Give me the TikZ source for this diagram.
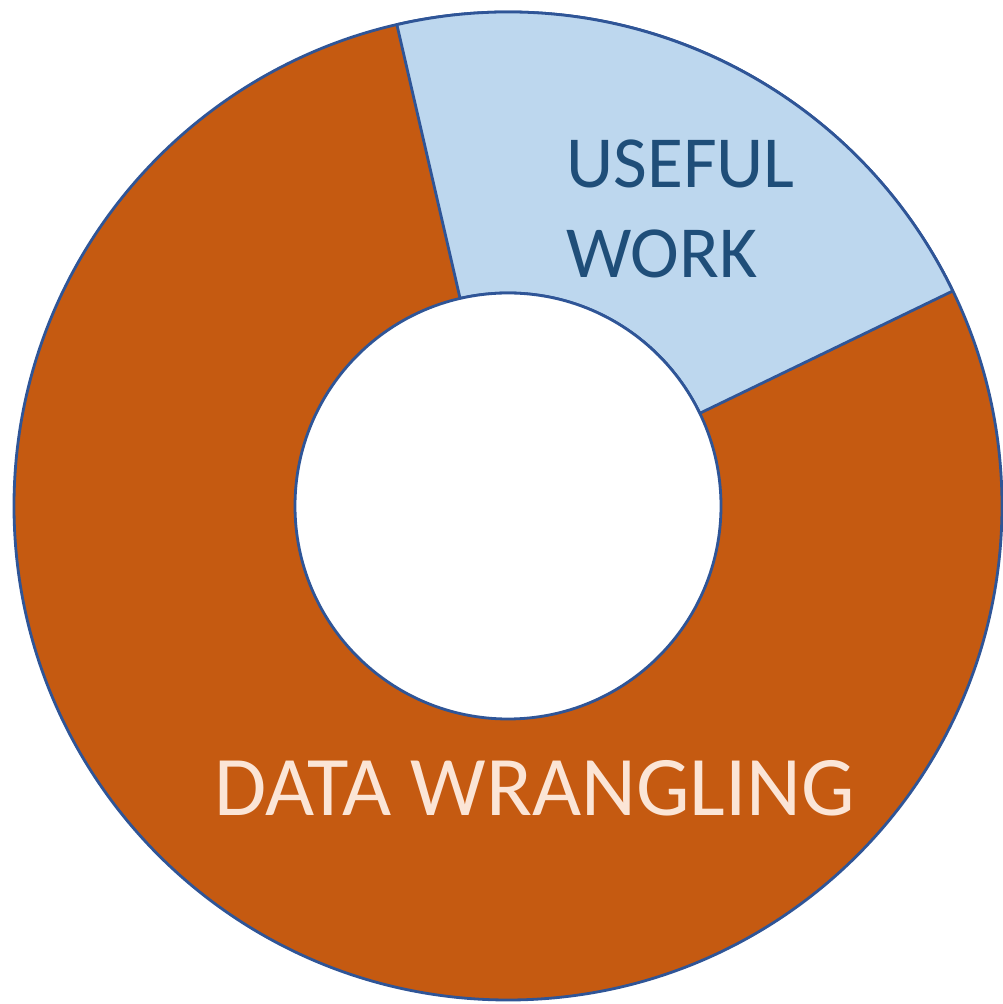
\documentclass[tikz,border=0pt]{standalone}
\usepackage{fontspec}
\setmainfont{Carlito}
\usetikzlibrary{calc, positioning}
\definecolor{wranglerust}{HTML}{C55A11}
\definecolor{usefulsky}{HTML}{BDD7EE}
\definecolor{edgeblue}{HTML}{2F5597}
\definecolor{usefulink}{HTML}{1F4E79}
\definecolor{wranglecream}{HTML}{FBE5D6}

\begin{document}
\begin{tikzpicture}[x=0.02cm, y=0.02cm]
        \useasboundingbox (0,0) rectangle (1002,1004);
        \coordinate (centre) at (508,498);

        % whole ring, then the useful slice on top
        \draw [fill=wranglerust, draw=edgeblue, line width=1.6pt] (centre) circle [radius=494];
        \draw [fill=usefulsky, draw=edgeblue, line width=1.6pt, line join=round]
            ($(centre)+(25.8:494)$) arc [start angle=25.8, end angle=103, radius=494]
            -- ($(centre)+(103:213)$) arc [start angle=103, end angle=25.8, radius=213] -- cycle;
        \draw [fill=white, draw=edgeblue, line width=1.6pt] (centre) circle [radius=213];

        \node (useful) [anchor=base west, inner sep=0pt, text=usefulink, font=\fontsize{41.8}{51}\selectfont] at (566,816) {USEFUL};
        \node (work) [anchor=base west, inner sep=0pt, text=usefulink, font=\fontsize{41.8}{51}\selectfont] at (566,726) {WORK};
        \node (wrangling) [anchor=base west, inner sep=0pt, text=wranglecream, font=\fontsize{48.3}{56}\selectfont] at (214,188) {DATA WRANGLING};
    \end{tikzpicture}
\end{document}
